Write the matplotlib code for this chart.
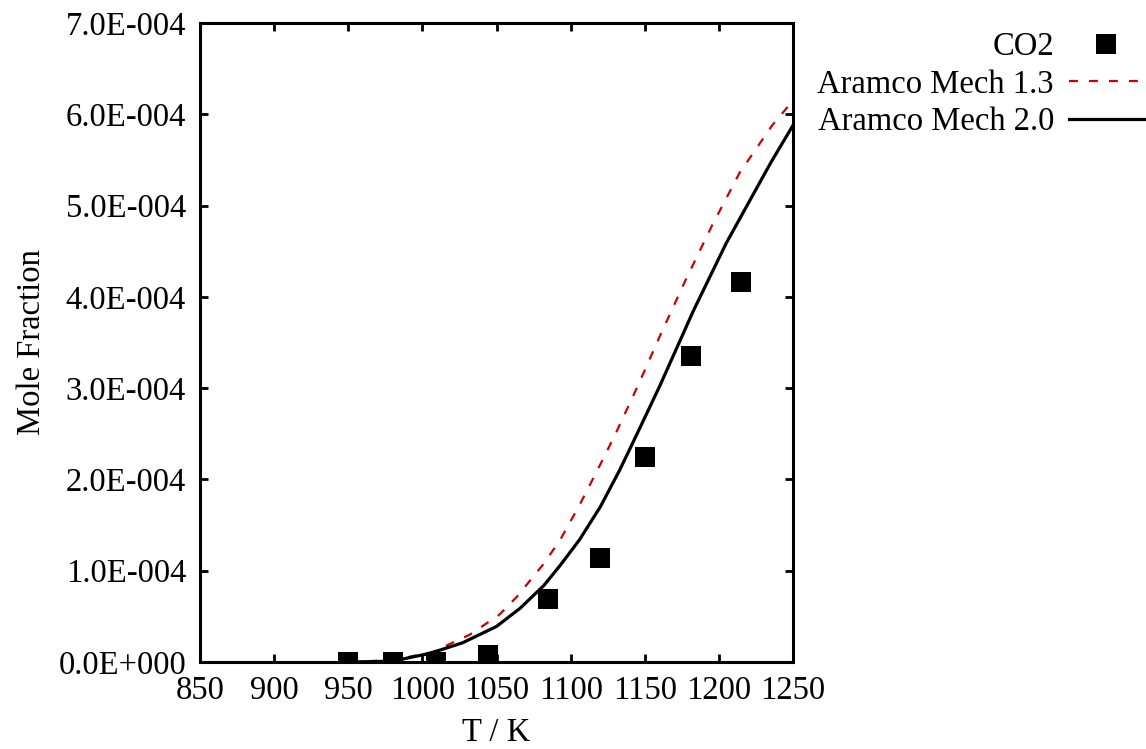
import matplotlib
matplotlib.use("Agg")
import matplotlib.pyplot as plt
from matplotlib.ticker import FuncFormatter, MultipleLocator

plt.rcParams["font.family"] = ["Liberation Serif", "DejaVu Serif"]

# measured CO2 mole fractions
exp_T = [950, 980, 1009, 1044, 1085, 1120, 1150, 1181, 1215]
exp_x = [0.0, 0.0, 0.0, 0.077e-4, 0.69e-4, 1.14e-4, 2.245e-4, 3.35e-4, 4.16e-4]

# Aramco Mech 1.3 (dashed)
m13_T = [950, 980, 1007, 1032, 1052, 1064, 1082, 1093, 1106, 1118, 1130, 1146,
         1161, 1178, 1195, 1214, 1236, 1250]
m13_x = [0.0, 0.02e-4, 0.11e-4, 0.30e-4, 0.52e-4, 0.72e-4, 1.08e-4, 1.34e-4,
         1.72e-4, 2.10e-4, 2.49e-4, 3.05e-4, 3.60e-4, 4.20e-4, 4.77e-4,
         5.36e-4, 5.88e-4, 6.15e-4]

# Aramco Mech 2.0 (solid)
m20_T = [950, 980, 1005, 1027, 1050, 1066, 1082, 1093, 1106, 1120, 1133, 1146,
         1160, 1183, 1205, 1221, 1235, 1250]
m20_x = [0.0, 0.01e-4, 0.095e-4, 0.21e-4, 0.39e-4, 0.59e-4, 0.84e-4, 1.06e-4,
         1.34e-4, 1.70e-4, 2.10e-4, 2.54e-4, 3.02e-4, 3.855e-4, 4.59e-4,
         5.06e-4, 5.47e-4, 5.88e-4]


def sci_fmt(v, pos):
    if abs(v) < 1e-12:
        return "0.0E+000"
    mant, exp = f"{v:.1E}".split("E")
    e = int(exp)
    sign = "-" if e < 0 else "+"
    return f"{mant}E{sign}{abs(e):03d}"


fig = plt.figure(figsize=(11.46, 7.49), dpi=100)
ax = fig.add_axes([0.1745, 0.1161, 0.5175, 0.8532])

ax.plot(exp_T, exp_x, linestyle="none", marker="s", markersize=14,
        color="black", markeredgewidth=0, label="CO2", zorder=3)
ax.plot(m13_T, m13_x, linestyle=(0, (4, 5)), color="#cc0000", linewidth=1.6,
        label="Aramco Mech 1.3")
ax.plot(m20_T, m20_x, linestyle="-", color="black", linewidth=2.3,
        label="Aramco Mech 2.0")

ax.set_xlim(850, 1250)
ax.set_ylim(0, 7e-4)
ax.xaxis.set_major_locator(MultipleLocator(50))
ax.yaxis.set_major_locator(MultipleLocator(1e-4))
ax.yaxis.set_major_formatter(FuncFormatter(sci_fmt))

for sp in ax.spines.values():
    sp.set_linewidth(2.2)
ax.tick_params(direction="in", length=6, width=2.0, labelsize=23.5,
               top=True, right=True)
ax.tick_params(axis="x", pad=10)
ax.tick_params(axis="y", pad=10)

ax.set_xlabel("T / K", fontsize=23.5, labelpad=8)
ax.set_ylabel("Mole Fraction", fontsize=23.5, labelpad=8)

leg = ax.legend(loc="upper right", bbox_to_anchor=(0.998, 0.958),
                bbox_transform=fig.transFigure, frameon=False,
                markerfirst=False, fontsize=23.5, handlelength=2.3,
                handletextpad=0.45, labelspacing=0.22, borderpad=0,
                borderaxespad=0, numpoints=1)

fig.savefig("out.png", dpi=100)
